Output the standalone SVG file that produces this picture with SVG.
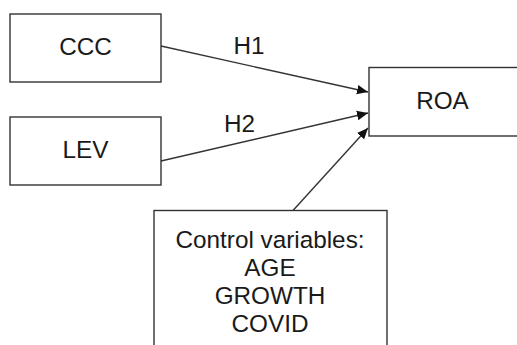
<svg xmlns="http://www.w3.org/2000/svg" width="517" height="345" viewBox="0 0 517 345">
<style>
.box{fill:#fff;stroke:#333;stroke-width:1.4}
.lbl{font-family:"Liberation Sans",Arial,sans-serif;font-size:24.3px;fill:#1a1a1a;text-anchor:middle}
.edge{stroke:#333;stroke-width:1.4;fill:none}
</style>
<defs>
<marker id="arr" markerUnits="userSpaceOnUse" markerWidth="12" markerHeight="12" viewBox="0 0 12 12" refX="11" refY="6" orient="auto">
<path d="M0,1.2 L11,6 L0,10.8 Z" fill="#111"/>
</marker>
</defs>
<rect width="517" height="345" fill="#fff"/>
<g id="CCC">
<rect class="box" x="10" y="14" width="151" height="68"/>
<text class="lbl" x="85.5" y="54.5">CCC</text>
</g>
<g id="LEV">
<rect class="box" x="10" y="117" width="151" height="68"/>
<text class="lbl" x="85.5" y="158">LEV</text>
</g>
<g id="ROA">
<rect class="box" x="369" y="67.5" width="160" height="68.5"/>
<text class="lbl" x="442.5" y="109">ROA</text>
</g>
<g id="Control">
<rect class="box" x="154" y="210.5" width="233" height="150"/>
<text class="lbl" x="270" y="248">Control variables:</text>
<text class="lbl" x="270" y="275.5">AGE</text>
<text class="lbl" x="270" y="304">GROWTH</text>
<text class="lbl" x="270" y="332">COVID</text>
</g>
<g id="connectors">
<path class="edge" d="M161,46 L368,92" marker-end="url(#arr)"/>
<path class="edge" d="M161,161 L368,113" marker-end="url(#arr)"/>
<path class="edge" d="M293,210.5 L368,128" marker-end="url(#arr)"/>
<text class="lbl" x="249" y="53.5">H1</text>
<text class="lbl" x="239.5" y="132">H2</text>
</g>
</svg>
